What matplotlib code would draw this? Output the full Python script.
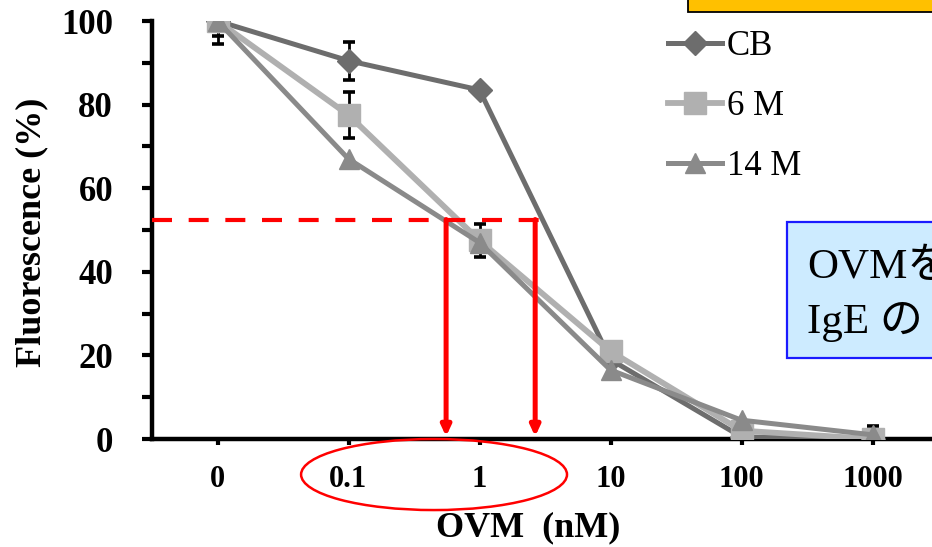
import matplotlib
matplotlib.use("Agg")
import matplotlib.pyplot as plt
from matplotlib.patches import Ellipse, Rectangle
import numpy as np

# OVM concentration (nM) vs fluorescence
conc_labels = ['0', '0.1', '1', '10', '100', '1000']
cb = [100, 90.5, 83.5, 19, 0.5, 0]
cb_err = [3.5, 4.5, 0, 0, 0, 0]
m6 = [100, 77.5, 47.5, 21, 2, 0]
m6_err = [5.5, 5.5, 4, 0, 0, 3]
m14 = [100, 67, 47, 16.5, 4.5, 1]
m14_err = [0, 0, 0, 0, 0, 0]
series_names = ['CB', '6 M', '14 M']

half_level = 52.5
arrow_x = [1.745, 2.425]

W, H = 932, 547
serif = 'Liberation Serif'

fig = plt.figure(figsize=(W / 100, H / 100), dpi=100)
ax = fig.add_axes([152 / W, 108 / H, (938 - 152) / W, 418 / H])

x = np.arange(len(conc_labels))

# error bars sit behind the markers
for vals, errs in [(cb, cb_err), (m6, m6_err), (m14, m14_err)]:
    e = np.array(errs, dtype=float)
    mask = e > 0
    if mask.any():
        ax.errorbar(x[mask], np.array(vals)[mask], yerr=e[mask], fmt='none',
                    ecolor='black', elinewidth=2.0, capsize=4.5, capthick=2.6,
                    zorder=2)

ax.plot(x, cb, color='#6d6d6d', lw=3.6, marker='D', ms=12,
        label=series_names[0], zorder=3)
ax.plot(x, m6, color='#b0b0b0', lw=4.2, marker='s', ms=16,
        label=series_names[1], zorder=4)
ax.plot(x, m14, color='#8a8a8a', lw=3.6, marker='^', ms=15,
        label=series_names[2], zorder=5)

# half-maximum guide and arrows
ax.plot([-0.5, 2.46], [half_level, half_level], color='red', lw=3.0,
        dashes=(4.8, 4.0), zorder=6, clip_on=False)
for xa in arrow_x:
    ax.annotate('', xy=(xa, 0.6), xytext=(xa, half_level),
                arrowprops=dict(arrowstyle='-|>,head_length=0.6,head_width=0.28',
                                color='red', lw=3.6, shrinkA=0, shrinkB=0),
                zorder=6)

ax.add_patch(Ellipse((1.653, -8.5), 2.03, 17, fill=False, edgecolor='red',
                     lw=1.8, clip_on=False, zorder=7))

ax.set_xlim(-0.5, 5.5)
ax.set_ylim(0, 100)
ax.set_xticks(x)
ax.set_xticklabels(conc_labels)
ax.set_yticks(np.arange(0, 101, 20))
ax.set_yticks(np.arange(0, 101, 10), minor=True)

for s in ['top', 'right']:
    ax.spines[s].set_visible(False)
for s in ['left', 'bottom']:
    ax.spines[s].set_linewidth(3.2)

ax.tick_params(axis='y', which='both', direction='out', length=7, width=3,
               pad=21)
ax.tick_params(axis='x', direction='out', length=4.5, width=3, pad=14)
for lbl in ax.get_yticklabels():
    lbl.set_fontfamily(serif)
    lbl.set_fontweight('bold')
    lbl.set_fontsize(25)
for lbl in ax.get_xticklabels():
    lbl.set_fontfamily(serif)
    lbl.set_fontweight('bold')
    lbl.set_fontsize(22)

fig.text(528 / W, 1 - 528 / H, 'OVM  (nM)', family=serif, weight='bold',
         fontsize=26, ha='center', va='center')
fig.text(32 / W, 1 - 232 / H, 'Fluorescence (%)', family=serif,
         weight='bold', fontsize=26, rotation=90, ha='center', va='center')

leg = ax.legend(loc='upper left', bbox_to_anchor=(668 / W, 1 - 30 / H),
                bbox_transform=fig.transFigure, frameon=False,
                prop={'family': serif, 'size': 25}, handlelength=1.55,
                handletextpad=0.15, labelspacing=0.78, borderpad=0,
                borderaxespad=0)

# boxes around the chart
fig.add_artist(Rectangle((688 / W, 1 - 12 / H), 0.4, 0.1,
                         transform=fig.transFigure, facecolor='#ffc000',
                         edgecolor='black', lw=1.3))
fig.add_artist(Rectangle((787 / W, 1 - 358 / H), 0.4, 136 / H,
                         transform=fig.transFigure, facecolor='#cdebff',
                         edgecolor='#1a1aff', lw=1.6, zorder=10))
fig.text(807 / W, 1 - 268 / H, 'OVMを', family=[serif, 'Noto Sans CJK JP'],
         fontsize=31, ha='left', va='center', zorder=11)
fig.text(807 / W, 1 - 322 / H, 'IgE の', family=[serif, 'Noto Sans CJK JP'],
         fontsize=31, ha='left', va='center', zorder=11)

fig.savefig('out.png', dpi=100)
